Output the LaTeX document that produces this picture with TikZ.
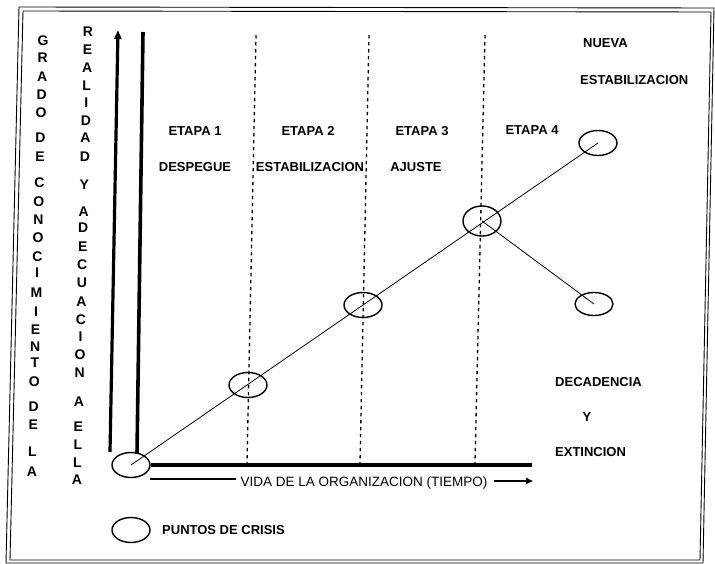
\documentclass[tikz,border=0pt]{standalone}
\usepackage{fontspec}
\setmainfont{Liberation Sans}
\usetikzlibrary{arrows.meta,shapes.geometric}
\begin{document}
\begin{tikzpicture}[x=1pt,y=-1pt,
  lbl/.style={font=\fontsize{13}{15}\selectfont\bfseries, inner sep=0pt},
  axl/.style={font=\fontsize{13.5}{15}\selectfont, inner sep=0pt},
  vl/.style={font=\fontsize{14}{16}\selectfont\bfseries, inner sep=0pt},
  crisis/.style={ellipse, draw, line width=1.4pt, inner sep=0pt, minimum width=38pt, minimum height=25pt},
  frameline/.style={line width=0.9pt},
  thickaxis/.style={line width=3.2pt},
  stagesep/.style={line width=1.3pt, dash pattern=on 3.5pt off 3.5pt},
  trend/.style={line width=0.8pt}]
\useasboundingbox (0,0) rectangle (715,564);
% frame
\draw[frameline] (19,7) -- (714,8) -- (703,563) -- (6,563) -- cycle;
\draw[frameline] (23,11) -- (711,12) -- (700,560) -- (10,560) -- cycle;
% vertical texts
\foreach \l/\y [count=\i] in {G/41,R/58,A/77,D/95,O/113,D/138,E/157,C/183,O/202,N/220,O/238,C/257,I/273,M/293,I/312,E/330,N/347,T/363,O/382,D/407,E/425,L/452,A/472}
  \node[vl] (ga\i) at ({43-(\y-41)*11/431},\y) {\l};
\foreach \l/\y [count=\i] in {R/32,E/50,A/68,L/86,I/103,D/121,A/138,D/157,Y/185,A/212,D/228,E/247,C/265,U/283,A/302,C/320,I/337,O/355,N/373,A/402,E/427,L/445,L/463,A/480}
  \node[vl] (rb\i) at ({88-(\y-32)*11/448},\y) {\l};
% crisis points
\node[crisis] (e0) at (131,465) {};
\node[crisis] (e1) at (248,385) {};
\node[crisis] (e2) at (363,305) {};
\node[crisis, minimum height=30pt] (e3) at (482,221) {};
\node[crisis] (e4) at (598,143) {};
\node[crisis, minimum height=23pt] (e5) at (594,304) {};
\node[crisis] (leg) at (131,530) {};
% axes
\draw[thickaxis, -{Triangle[length=9pt,width=7pt]}] (110,452) -- (118,30);
\draw[thickaxis, line width=3.6pt] (137,453.5) -- (143,32);
\draw[thickaxis] (e0.east) -- (532,465);
% stage separators
\draw[stagesep] (256,35) -- (247,463);
\draw[stagesep] (369,35) -- (360,463);
\draw[stagesep] (485,35) -- (475,463);
% trend lines
\draw[trend] (e0.center) -- (e4.center);
\draw[trend] (e3.center) -- (e5.center);
% labels
\node[lbl] (et1) at (195,131) {ETAPA 1};
\node[lbl] (et2) at (308,131) {ETAPA 2};
\node[lbl] (et3) at (422,131) {ETAPA 3};
\node[lbl] (et4) at (532,130) {ETAPA 4};
\node[lbl] (desp) at (195,167) {DESPEGUE};
\node[lbl] (estab) at (310,167) {ESTABILIZACION};
\node[lbl] (ajus) at (416,167) {AJUSTE};
\node[lbl, anchor=west] (nueva) at (583,43) {NUEVA};
\node[lbl, anchor=west] (nest) at (580,80) {ESTABILIZACION};
\node[lbl, anchor=west] (deca) at (555,382) {DECADENCIA};
\node[lbl] (ydec) at (587,417) {Y};
\node[lbl, anchor=west] (ext) at (555,452) {EXTINCION};
\node[lbl, anchor=west] (pc) at (162,530) {PUNTOS DE CRISIS};
\node[axl] (vida) at (364,483) {VIDA DE LA ORGANIZACION (TIEMPO)};
\draw[line width=2.5pt] (150,479) -- ([xshift=-4pt]vida.west |- 0,479);
\draw[line width=2.5pt, -{Triangle[length=7pt,width=6pt]}] ([xshift=6pt]vida.east |- 0,481) -- (533,481);
\end{tikzpicture}
\end{document}
